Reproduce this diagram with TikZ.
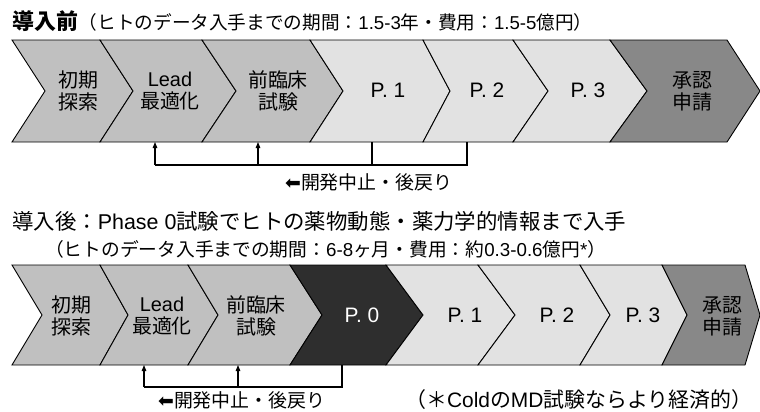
\documentclass[tikz,border=0pt]{standalone}
\usepackage{fontspec}
\setmainfont{Noto Sans CJK JP}
\newfontfamily\arrowfont{DejaVu Sans}
\newfontfamily\lat{Liberation Sans}
\usetikzlibrary{arrows.meta}
\definecolor{cEarly}{HTML}{C0C0C0}
\definecolor{cPhase}{HTML}{E2E2E2}
\definecolor{cAppr}{HTML}{888888}
\definecolor{cZero}{HTML}{2E2E2E}
\tikzset{
  chev/.style={draw=black, line width=0.9bp, line join=miter},
  lbl/.style={font=\fontsize{20}{22}\selectfont, align=center, inner sep=0pt},
  plbl/.style={font=\lat\fontsize{21}{24}\selectfont, inner sep=0pt},
  back/.style={draw=black, line width=1.1bp},
  backarrow/.style={back, -{Triangle[length=6bp,width=4.5bp]}},
  ttl/.style={anchor=base west, inner sep=0pt},
}
% #1 fill, #2 ytop, #3 ybot, #4 xL, #5 tipL, #6 xR, #7 tipR
\newcommand\chevshape[7]{%
  \filldraw[chev, fill=#1] (#4,#2) -- (#6,#2) -- (#7,{(#2+#3)/2}) -- (#6,#3) -- (#4,#3) -- (#5,{(#2+#3)/2}) -- cycle;}
\begin{document}
\begin{tikzpicture}[x=1bp, y=-1bp]
\useasboundingbox (0,0) rectangle (760,411);
% ---------- titles ----------
\node[ttl] (title1) at (12,29) {{\bfseries\fontsize{22}{26}\selectfont 導入前}\hspace{1bp}{\fontsize{18.7}{21}\selectfont （ヒトのデータ入手までの期間：{\lat 1.5-3}年・費用：{\lat 1.5-5}億円）}};
\node[ttl] (title2) at (12,229) {\fontsize{21.5}{25}\selectfont 導入後：{\lat Phase 0}試験でヒトの薬物動態・薬力学的情報まで入手};
\node[ttl] (title2b) at (45,256) {\fontsize{18.8}{21}\selectfont （ヒトのデータ入手までの期間：{\lat 6-8}ヶ月・費用：約{\lat 0.3-0.6}億円{\lat *}）};
% ---------- top row ----------
\chevshape{cEarly}{40}{142}{12}{45}{100}{133}
\chevshape{cEarly}{40}{142}{100}{133}{202}{236}
\chevshape{cEarly}{40}{142}{202}{236}{310}{343}
\chevshape{cPhase}{40}{142}{310}{343}{423}{450}
\chevshape{cPhase}{40}{142}{423}{450}{513}{548}
\chevshape{cPhase}{40}{142}{513}{548}{610}{647}
\chevshape{cAppr}{40}{142}{610}{647}{727}{760}
\node[lbl] (a1) at (78,91) {初期\\探索};
\node[lbl] (a2) at (170,91) {{\lat Lead}\\最適化};
\node[lbl] (a3) at (278,91) {前臨床\\試験};
\node[plbl] (a4) at (388,90) {P. 1};
\node[plbl] (a5) at (487,90) {P. 2};
\node[plbl] (a6) at (588,90) {P. 3};
\node[lbl] (a7) at (692,91) {承認\\申請};
% top back-arrows
\coordinate (tu1) at (155,142);
\coordinate (tu2) at (258,142);
\coordinate (ts1) at (372,142);
\coordinate (ts2) at (467,142);
\coordinate (tl) at (155,165);
\draw[back] (ts2) |- (tl);
\draw[back] (ts1) -- (ts1 |- tl);
\draw[backarrow] (tl) -- (tu1);
\draw[backarrow] (tu2 |- tl) -- (tu2);
\node[ttl] (back1) at (285,189) {\fontsize{19}{22}\selectfont{\arrowfont ⬅}開発中止・後戻り};
% ---------- bottom row ----------
\chevshape{cEarly}{265}{365}{12}{42}{100}{128}
\chevshape{cEarly}{265}{365}{100}{128}{188}{218}
\chevshape{cEarly}{265}{365}{188}{218}{290}{322}
\chevshape{cZero}{265}{365}{290}{322}{386}{423}
\chevshape{cPhase}{265}{365}{386}{423}{478}{515}
\chevshape{cPhase}{265}{365}{478}{515}{580}{610}
\chevshape{cPhase}{265}{365}{580}{610}{662}{687}
\chevshape{cAppr}{265}{365}{662}{687}{745}{760}
\node[lbl] (b1) at (71,316) {初期\\探索};
\node[lbl] (b2) at (162,316) {{\lat Lead}\\最適化};
\node[lbl] (b3) at (256,316) {前臨床\\試験};
\node[plbl, text=white] (b4) at (362,315) {P. 0};
\node[plbl] (b5) at (465,315) {P. 1};
\node[plbl] (b6) at (557,315) {P. 2};
\node[plbl] (b7) at (643,315) {P. 3};
\node[lbl] (b8) at (722,316) {承認\\申請};
% bottom back-arrows
\coordinate (bu1) at (144,365);
\coordinate (bu2) at (238,365);
\coordinate (bs1) at (342,365);
\coordinate (bl) at (144,387);
\draw[back] (bs1) |- (bl);
\draw[backarrow] (bl) -- (bu1);
\draw[backarrow] (bu2 |- bl) -- (bu2);
\node[ttl] (back2) at (158,407) {\fontsize{19}{22}\selectfont{\arrowfont ⬅}開発中止・後戻り};
\node[ttl] (note) at (405,407) {\fontsize{21}{24}\selectfont （＊{\lat Cold}の{\lat MD}試験ならより経済的）};
\end{tikzpicture}
\end{document}
